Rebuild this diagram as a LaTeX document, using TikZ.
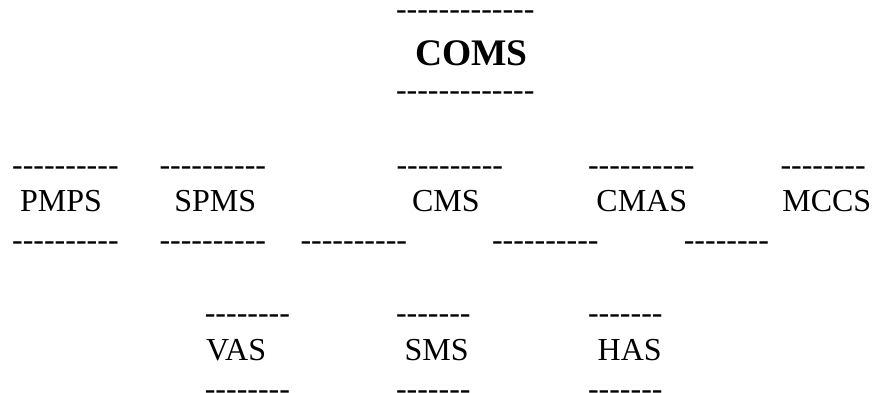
\documentclass[tikz,border=0pt]{standalone}
\usepackage{fontspec}
\setmainfont[Ligatures=TeXOff]{Liberation Serif}
\begin{document}
\begin{tikzpicture}[x=1pt,y=1pt,
  txt/.style={anchor=base west,inner sep=0pt,outer sep=0pt,font=\fontsize{32}{38}\selectfont},
  title/.style={anchor=base west,inner sep=0pt,outer sep=0pt,font=\fontsize{37.5}{44}\selectfont\bfseries}]
\useasboundingbox (0,0) rectangle (872,-392);
% row 1
\node[txt] (t1) at (396,-19.5) {-------------};
\node[title] (coms) at (415,-65) {COMS};
\node[txt] (b1) at (396,-100.3) {-------------};
% row 2 top
\node[txt] (t2a) at (12.1,-175.8) {----------};
\node[txt] (t2b) at (159.5,-175.8) {----------};
\node[txt] (t2c) at (396.5,-175.8) {----------};
\node[txt] (t2d) at (588,-175.8) {----------};
\node[txt] (t2e) at (780.5,-175.8) {--------};
% row 2 text
\node[txt] (pmps) at (20.2,-211.7) {PMPS};
\node[txt] (spms) at (174.4,-211.7) {SPMS};
\node[txt] (cms) at (412,-211.7) {CMS};
\node[txt] (cmas) at (596.4,-211.7) {CMAS};
\node[txt] (mccs) at (782.3,-211.7) {MCCS};
% row 2 bottom
\node[txt] (b2a) at (12.1,-250) {----------};
\node[txt] (b2b) at (159.5,-250) {----------};
\node[txt] (b2c) at (300.5,-250) {----------};
\node[txt] (b2d) at (492,-250) {----------};
\node[txt] (b2e) at (683.8,-250) {--------};
% row 3
\node[txt] (t3a) at (204.8,-323.2) {--------};
\node[txt] (t3b) at (396,-323.2) {-------};
\node[txt] (t3c) at (588,-323.2) {-------};
\node[txt] (vas) at (206.2,-360.7) {VAS};
\node[txt] (sms) at (404.7,-360.7) {SMS};
\node[txt] (has) at (597.7,-360.7) {HAS};
\node[txt] (b3a) at (204.8,-399.3) {--------};
\node[txt] (b3b) at (396,-399.3) {-------};
\node[txt] (b3c) at (588,-399.3) {-------};
\end{tikzpicture}
\end{document}
